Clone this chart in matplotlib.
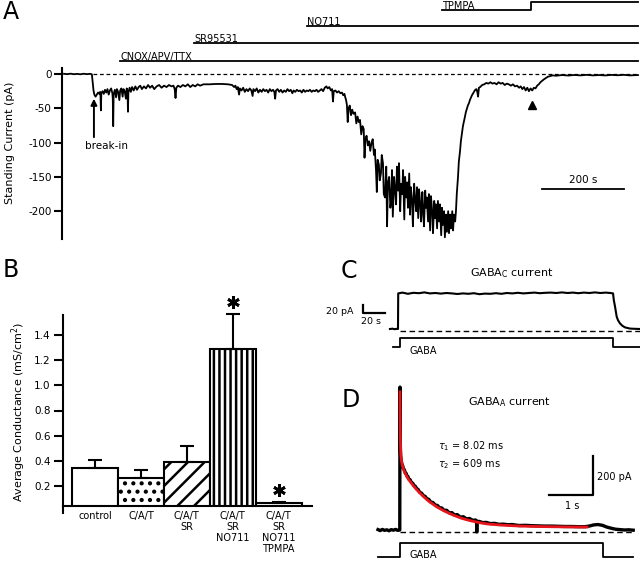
import matplotlib
matplotlib.use('Agg')
import matplotlib.pyplot as plt

W, H, DPI = 640, 561, 100
plt.rcParams['font.family'] = ['DejaVu Sans']
plt.rcParams['hatch.linewidth'] = 1.8

# ---------------- Panel A data (time s, current pA) ----------------
a_time = [0, 8, 16, 24, 32, 40, 48, 56, 64, 68,
          70, 72, 74, 77, 80, 83, 86, 88, 89, 90, 91, 94, 97, 100, 103, 106, 109, 112, 115, 118, 119, 120, 121,
          124, 127, 129, 132, 135, 137, 140, 143, 145, 148, 151, 153, 155, 156, 157, 160, 163, 166, 170, 174,
          178, 182, 186, 190, 195, 200, 205, 210, 215, 220, 226, 232, 238, 244, 250, 256, 262, 267, 270, 272,
          274, 278, 284, 290, 296, 302, 308, 314, 320, 326, 332, 340, 355, 370, 385, 400, 410, 415, 418, 421,
          424, 427, 429, 433, 437, 441, 445, 449, 453, 457, 460, 462, 466, 470, 474, 478, 482, 486, 490, 494,
          498, 502, 506, 510, 513, 515, 517, 521, 525, 529, 533, 537, 541, 545, 549, 553, 557, 560, 564, 568,
          572, 576, 580, 584, 588, 592, 596, 600, 604, 608, 612, 616, 620, 624, 628, 632, 636, 640, 643, 647,
          651, 654, 656, 658, 662, 666, 670, 674, 678, 681, 684, 686, 688, 690, 692, 694, 697, 700, 703, 706,
          710, 713, 716, 719, 722, 725, 728, 731, 733, 735, 738, 741, 744, 747, 750, 753, 756, 758, 761, 763,
          765, 768, 770, 773, 775, 778, 780, 783, 786, 788, 790, 793, 796, 798, 800, 802, 805, 807, 810, 812,
          815, 817, 820, 822, 825, 827, 830, 832, 835, 837, 839, 842, 844, 846, 849, 851, 854, 856, 859, 861,
          864, 866, 869, 871, 874, 876, 878, 881, 883, 885, 888, 890, 893, 895, 898, 900, 903, 905, 907, 910,
          912, 915, 917, 920, 922, 924, 927, 929, 932, 934, 937, 939, 942, 944, 947, 949, 951, 954, 956, 958,
          961, 963, 966, 968, 971, 973, 976, 978, 980, 983, 985, 988, 990, 993, 995, 998, 1000, 1003, 1006,
          1008, 1010, 1012, 1015, 1020, 1025, 1030, 1035, 1040, 1045, 1050, 1055, 1060, 1065, 1070, 1075,
          1080, 1085, 1090, 1095, 1100, 1105, 1110, 1114, 1118, 1122, 1126, 1130, 1134, 1138, 1142, 1146,
          1150, 1154, 1158, 1162, 1166, 1170, 1175, 1180, 1186, 1192, 1200, 1215, 1230, 1245, 1260, 1275,
          1290, 1305, 1320, 1335, 1350, 1365, 1380, 1400]
a_current = [0.3, -0.2, 0.5, -0.3, 0.2, -0.4, 0.4, -0.2, 0.3, -0.5,
             -12, -24, -30, -33, -30, -27, -29, -26, -31, -53, -28, -25, -29, -23, -27, -22, -30, -24, -21, -28,
             -36, -76, -30, -23, -34, -22, -26, -38, -24, -21, -33, -22, -25, -36, -21, -25, -55, -27, -20, -26,
             -19, -24, -18, -23, -19, -17, -22, -18, -21, -16, -20, -17, -22, -18, -16, -20, -17, -19, -16, -18,
             -17, -22, -35, -20, -17, -19, -16, -18, -15, -19, -16, -18, -15, -17, -15, -15, -14.5, -14.5, -15,
             -16, -19, -17, -22, -19, -30, -21, -24, -20, -26, -22, -25, -21, -24, -32, -22, -25, -21, -27, -23,
             -26, -22, -25, -23, -27, -22, -25, -23, -26, -36, -24, -22, -26, -23, -27, -24, -26, -22, -25, -23,
             -28, -24, -26, -23, -25, -24, -27, -23, -26, -24, -25, -23, -26, -24, -25, -23, -26, -24, -22, -25,
             -20, -18, -21, -19, -24, -22, -40, -25, -24, -27, -25, -28, -27, -31, -29, -34, -38, -45, -70, -50,
             -46, -60, -52, -58, -56, -72, -62, -70, -67, -88, -76, -80, -122, -95, -90, -104, -98, -112, -100,
             -95, -118, -110, -140, -172, -125, -132, -155, -145, -118, -130, -175, -180, -135, -222, -160, -150,
             -195, -185, -140, -208, -150, -165, -190, -135, -170, -130, -200, -160, -175, -140, -212, -150, -180,
             -158, -195, -145, -205, -165, -185, -222, -160, -180, -200, -165, -210, -168, -190, -215, -172, -200,
             -222, -170, -195, -180, -215, -175, -228, -178, -200, -232, -185, -210, -190, -225, -185, -215, -190,
             -235, -195, -220, -200, -238, -205, -230, -200, -232, -205, -225, -200, -228, -205, -215, -200, -175,
             -150, -128, -112, -98, -85, -76, -68, -62, -56, -50, -46, -42, -38, -34, -31, -28, -26, -23, -22, -26,
             -33, -20, -19, -16, -15, -13, -14, -12, -14, -13, -15, -12, -14, -13, -16, -14, -15, -17, -15, -18,
             -17, -20, -18, -22, -19, -24, -20, -25, -21, -24, -20, -21, -17, -15, -12, -10, -8, -6, -4, -3, -2,
             -2.5, -1.5, -2.2, -1.4, -2, -1.2, -2, -1.5, -2.1, -1.3, -1.8, -1.2, -2, -1.5]
drug_names = ['CNOX/APV/TTX', 'SR95531', 'NO711', 'TPMPA']
drug_start = [137, 317, 593, 922]
tpmpa_step = 1139
a_end = 1400
a_yticks = [0, -50, -100, -150, -200]
a_scale_s = 200
breakin_t = 73
marker_t = 1141

# ---------------- Panel B data ----------------
b_labels = ['control', 'C/A/T', 'C/A/T\nSR', 'C/A/T\nSR\nNO711', 'C/A/T\nSR\nNO711\nTPMPA']
b_means = [0.343, 0.264, 0.391, 1.289, 0.063]
b_sem = [0.064, 0.063, 0.127, 0.276, 0.007]
b_signif = [False, False, False, True, True]
b_hatch = ['', '..', '//', '|||', '']
b_yticks = [0.2, 0.4, 0.6, 0.8, 1.0, 1.2, 1.4]

# ---------------- Panel C data (s, pA) ----------------
c_time = [-7.3, -5, -3, -1, 0, 0.2, 4, 9, 14, 19, 24, 29, 34, 39, 44, 49, 54, 59, 64, 69, 74, 79, 84, 89,
          94, 99, 104, 109, 114, 119, 124, 129, 134, 139, 144, 149, 154, 159, 164, 169, 174, 179, 184, 189,
          193, 195.5, 196.2, 197.3, 198.8, 200, 201.8, 204, 206.4, 211, 215, 220]
c_current = [0, 0.8, -0.5, 0.5, 0, 89, 91, 88, 90.5, 89.5, 91.5, 89, 90, 88.5, 90, 89, 87.5, 89, 88, 89.5,
             87, 88.5, 88, 89.5, 88, 90, 89, 90.5, 89, 90, 91, 89.5, 90.5, 91, 90, 91.5, 90, 91, 89.5, 91,
             90, 91.5, 90, 91, 90, 89, 72, 56, 31, 22, 14, 8, 4, 1, 0.5, 0]
c_gaba = (1.8, 195.5)

# ---------------- Panel D data (s, pA) ----------------
d_time = [-0.5, -0.45, -0.4, -0.35, -0.3, -0.25, -0.2, -0.15, -0.1, -0.05, -0.005, 0.0, 0.004, 0.008,
          0.015, 0.025, 0.04, 0.06, 0.08, 0.1, 0.12, 0.14, 0.16, 0.18, 0.2, 0.23, 0.26, 0.29, 0.32, 0.35,
          0.38, 0.41, 0.45, 0.49, 0.53, 0.57, 0.61, 0.65, 0.7, 0.75, 0.8, 0.85, 0.9, 0.95, 1.0, 1.06, 1.12,
          1.18, 1.24, 1.3, 1.37, 1.44, 1.51, 1.58, 1.65, 1.72, 1.74, 1.745, 1.75, 1.8, 1.88, 1.96, 2.05, 2.15,
          2.25, 2.35, 2.45, 2.55, 2.7, 2.85, 3.0, 3.15, 3.3, 3.45, 3.6, 3.75, 3.9, 4.05, 4.2, 4.3, 4.4, 4.5,
          4.6, 4.7, 4.8, 4.9, 5.0, 5.1, 5.2, 5.3]
d_current = [2, -3, 3, -2, 1, -4, 2, -1, 3, -2, 0, 733, 560, 430, 380, 362, 340, 330, 314, 308, 292, 290,
             276, 274, 261, 258, 243, 240, 227, 224, 211, 208, 193, 189, 176, 173, 160, 158, 143, 141, 128,
             126, 114, 113, 101, 101, 88, 89, 77, 79, 66, 68, 57, 59, 50, 51, 45, -10, 44, 44, 38, 39, 33, 34,
             29, 30, 27, 28, 23, 24, 22, 21, 20, 20, 19, 18, 18, 17, 17, 20, 26, 28, 24, 15, 9, 4, 2, 0, 1, -1]
d_fit_time = [0.0, 0.003, 0.006, 0.01, 0.015, 0.02, 0.03, 0.045, 0.065, 0.09, 0.12, 0.16, 0.2, 0.25, 0.3,
              0.35, 0.45, 0.55, 0.65, 0.75, 0.84, 1.0, 1.2, 1.4, 1.59, 1.8, 1.98, 2.3, 2.73, 3.2, 3.7, 4.25]
d_fit_current = [708, 600, 520, 455, 410, 385, 360, 340, 322, 305, 290, 272, 258, 243, 228, 214, 190, 168,
                 148, 132, 118, 98, 77, 60, 48, 38, 31, 25, 20, 17.5, 16, 15]
d_gaba = (0.0, 4.61)

# ---------------- helpers ----------------
fig = plt.figure(figsize=(W / DPI, H / DPI), dpi=DPI)


def axes_px(l, t, r, b):
    return fig.add_axes([l / W, 1 - b / H, (r - l) / W, (b - t) / H])


def ftext(x, y, s, **kw):
    kw.setdefault('fontsize', 7.5)
    return fig.text(x / W, 1 - y / H, s, **kw)


# ---------------- Panel A ----------------
axA = axes_px(62, 0, 640, 239)
axA.set_xlim(-4.88, 1404.9)
axA.set_ylim(-240.5, 107.9)
axA.plot(a_time, a_current, color='black', lw=1.3)
axA.plot([70, a_end], [0.5, 0.5], color='black', lw=0.9, dashes=(3, 2.2))
for sp in ['top', 'right', 'bottom']:
    axA.spines[sp].set_visible(False)
axA.spines['left'].set_bounds(-240.5, 8.7)
axA.spines['left'].set_linewidth(1.5)
axA.set_xticks([])
axA.set_yticks(a_yticks)
axA.set_yticklabels([str(v) for v in a_yticks])
axA.tick_params(axis='y', direction='out', length=6, width=1.5, pad=1.5, labelsize=7.5)
levels = [19, 45.2, 70, 93.3]
for name, start, lev in zip(drug_names, drug_start, levels):
    if name == 'TPMPA':
        axA.plot([start, tpmpa_step, tpmpa_step, a_end], [lev, lev, 105, 105], color='black', lw=1.3,
                 clip_on=False)
    else:
        axA.plot([start, a_end], [lev, lev], color='black', lw=1.3, clip_on=False)
    axA.text(start, lev + 1.2, name, fontsize=7, va='baseline', ha='left')
axA.annotate('', xy=(breakin_t, -36), xytext=(breakin_t, -92),
             arrowprops=dict(arrowstyle='-|>', lw=1.4, color='black', mutation_scale=9, shrinkA=0, shrinkB=0))
axA.plot([marker_t], [-45], marker='^', color='black', ms=5.5)
sb_x0 = 1366 - a_scale_s
axA.plot([sb_x0, sb_x0 + a_scale_s], [-167.6, -167.6], color='black', lw=1.3)
ftext(107, 146, 'break-in', ha='center', va='center')
ftext(583, 180, '%d s' % a_scale_s, ha='center', va='center')
ftext(10, 143, 'Standing Current (pA)', rotation=90, ha='center', va='center', fontsize=8)
ftext(3, 12, 'A', fontsize=17, ha='left', va='center')

# ---------------- Panel B ----------------
axB = axes_px(63, 315, 312, 506)
xs = list(range(len(b_means)))
axB.set_xlim(-0.697, 4.728)
axB.set_ylim(0.041, 1.559)
for i in xs:
    axB.bar(i, b_means[i], width=1.0, color='white', edgecolor='black', linewidth=1.5,
            hatch=b_hatch[i], zorder=2)
axB.errorbar(xs, b_means, yerr=[[0] * len(xs), b_sem], fmt='none', ecolor='black', elinewidth=1.5,
             capsize=5, capthick=1.5, zorder=3, clip_on=False)
for i in xs:
    if b_signif[i]:
        axB.plot([i], [b_means[i] + b_sem[i] + 0.095], marker=(6, 2, 0), color='black', ms=9, mew=2.0,
                 clip_on=False)
for sp in ['top', 'right']:
    axB.spines[sp].set_visible(False)
axB.spines['left'].set_linewidth(1.5)
axB.spines['bottom'].set_linewidth(1.5)
axB.plot([0, 0], [0, -0.037], transform=axB.transAxes, color='black', lw=1.5, clip_on=False)
axB.set_yticks(b_yticks)
axB.set_yticklabels(['%.1f' % v for v in b_yticks])
axB.tick_params(axis='y', direction='out', length=6.5, width=1.5, pad=2.5, labelsize=7.5)
axB.set_xticks(xs)
axB.set_xticklabels(b_labels, fontsize=7, linespacing=1.15)
axB.tick_params(axis='x', length=0, pad=3.5)
ftext(19, 412, 'Average Conductance (mS/cm$^2$)', rotation=90, ha='center', va='center', fontsize=8)
ftext(3, 270, 'B', fontsize=17, ha='left', va='center')

# ---------------- Panel C ----------------
axC = axes_px(320, 285, 640, 360)
axC.set_xlim(-70.9, 220)
axC.set_ylim(-77.5, 110)
axC.axis('off')
axC.plot(c_time, c_current, color='black', lw=1.5)
axC.plot([c_gaba[0], 220], [-5, -5], color='black', lw=1.0, dashes=(4, 2.5))
axC.plot([-4.5, c_gaba[0], c_gaba[0], c_gaba[1], c_gaba[1], 220], [-45, -45, -22.5, -22.5, -45, -45],
         color='black', lw=1.3)
axC.plot([-31.8, -31.8, -11.8], [60, 40, 40], color='black', lw=1.6)
ftext(353, 312, '20 pA', ha='right', va='center', fontsize=6.8)
ftext(371, 322, '20 s', ha='center', va='center', fontsize=6.8)
ftext(410, 351, 'GABA', ha='left', va='center', fontsize=7)
ftext(512, 273, 'GABA$_\\mathregular{C}$ current', ha='center', va='center', fontsize=8)
ftext(341, 271, 'C', fontsize=17, ha='left', va='center')

# ---------------- Panel D ----------------
axD = axes_px(320, 380, 640, 561)
axD.set_xlim(-1.818, 5.4545)
axD.set_ylim(-159, 769.2)
axD.axis('off')
axD.plot(d_time, d_current, color='black', lw=2.4)
axD.plot(d_fit_time, d_fit_current, color='#e8141b', lw=2.0)
axD.plot([d_gaba[0], 5.3], [-10, -10], color='black', lw=1.0, dashes=(4, 2.5))
axD.plot([-0.5, d_gaba[0], d_gaba[0], d_gaba[1], d_gaba[1], 5.3], [-138, -138, -67, -67, -138, -138],
         color='black', lw=1.3, clip_on=False)
axD.plot([3.386, 4.386, 4.386], [179, 179, 379], color='black', lw=1.6)
ftext(597, 477, '200 pA', ha='left', va='center', fontsize=7)
ftext(572, 506, '1 s', ha='center', va='center', fontsize=7)
ftext(438, 446, '$\\tau_1$ = 8.02 ms', ha='left', va='center', fontsize=7)
ftext(438, 464, '$\\tau_2$ = 609 ms', ha='left', va='center', fontsize=7)
ftext(410, 555, 'GABA', ha='left', va='center', fontsize=7)
ftext(510, 402, 'GABA$_\\mathregular{A}$ current', ha='center', va='center', fontsize=8)
ftext(342, 400, 'D', fontsize=17, ha='left', va='center')

fig.savefig('out.png', dpi=DPI)
